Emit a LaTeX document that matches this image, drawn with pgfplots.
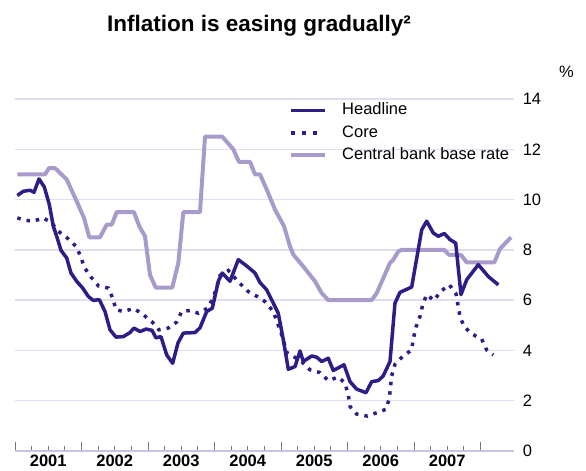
\documentclass[border=0pt]{standalone}
\usepackage{fontspec}
\setmainfont{Liberation Sans}
\usepackage{pgfplots}
\pgfplotsset{compat=1.18}
\usetikzlibrary{calc}
\definecolor{headc}{RGB}{45,30,135}
\definecolor{ratec}{RGB}{168,155,204}
\definecolor{gridc}{RGB}{224,221,240}
\definecolor{axisc}{RGB}{200,196,222}
\definecolor{tickc}{RGB}{120,120,120}
\newcommand{\lbl}{\fontsize{16.5bp}{19bp}\selectfont}
\pgfplotsset{
  longleg/.style={legend image code/.code={\draw[##1] (0bp,0bp) -- (34bp,0bp);}},
  dotleg/.style={legend image code/.code={\draw[##1, dash pattern=on 4bp off 7bp] (0bp,0bp) -- (26bp,0bp);}},
}
\begin{document}
\begin{tikzpicture}
\begin{axis}[
  name=ax,
  scale only axis,
  width=498.75bp, height=352bp,
  xmin=2001, xmax=2008.5, ymin=0, ymax=14,
  axis x line*=bottom,
  axis y line*=right,
  y axis line style={draw=none},
  x axis line style={draw=axisc, line width=1.2bp},
  xtick={2001,2002,2003,2004,2005,2006,2007,2008},
  xticklabels={},
  minor x tick num=3,
  xtick align=inside,
  major tick length=9bp,
  minor tick length=4.7bp,
  x tick style={draw=tickc, line width=0.8bp},
  ytick={0,2,4,6,8,10,12,14},
  ytick style={draw=none},
  ymajorgrids,
  major grid style={draw=gridc, line width=1.3bp},
  yticklabel pos=right,
  yticklabel style={font=\lbl, anchor=west, xshift=5.5bp},
  /pgf/number format/assume math mode=true,
  extra x ticks={2001.5,2002.5,2003.5,2004.5,2005.5,2006.5,2007.5},
  extra x tick labels={2001,2002,2003,2004,2005,2006,2007},
  extra x tick style={major tick length=0pt, xticklabel style={font=\lbl\bfseries}},
  legend style={at={(0.5494,0.9906)}, anchor=north west, draw=none, fill=none,
    font=\lbl, inner sep=0pt, row sep=7bp, legend cell align=left,
    nodes={inner sep=0pt, text height=12bp, text depth=3.5bp}},
]
% Central bank base rate (drawn first, behind)
\addplot[ratec, line width=4bp, line join=round, forget plot] coordinates {
(2001.035,11.0) (2001.451,11.0) (2001.511,11.25) (2001.602,11.25) (2001.777,10.8)
(2001.928,9.93) (2002.038,9.27) (2002.117,8.5) (2002.278,8.5) (2002.379,9.0)
(2002.454,9.0) (2002.529,9.5) (2002.789,9.5) (2002.869,8.94) (2002.955,8.54)
(2003.030,7.0) (2003.116,6.5) (2003.365,6.5) (2003.456,7.48) (2003.531,9.5)
(2003.782,9.5) (2003.857,12.5) (2004.117,12.5) (2004.283,12.0) (2004.368,11.5)
(2004.534,11.5) (2004.609,11.0) (2004.684,11.0) (2004.785,10.4) (2004.910,9.6)
(2005.045,8.94) (2005.135,8.14) (2005.185,7.81) (2005.335,7.34) (2005.511,6.75)
(2005.612,6.28) (2005.711,6.0) (2006.364,6.0) (2006.439,6.28) (2006.639,7.48)
(2006.689,7.61) (2006.764,7.94) (2006.815,8.0) (2007.456,8.0) (2007.526,7.8)
(2007.707,7.8) (2007.792,7.5) (2008.208,7.5) (2008.293,8.04) (2008.459,8.5)
};
% Headline
\addplot[headc, line width=3.5bp, line join=round, longleg] coordinates {
(2001.035,10.16) (2001.125,10.33) (2001.226,10.37) (2001.286,10.29) (2001.361,10.82)
(2001.441,10.5) (2001.516,9.8) (2001.576,8.94) (2001.627,8.54) (2001.692,7.98)
(2001.777,7.68) (2001.842,7.08) (2001.928,6.75) (2002.018,6.48) (2002.102,6.15)
(2002.177,5.99) (2002.268,6.02) (2002.353,5.55) (2002.429,4.82) (2002.519,4.53)
(2002.629,4.55) (2002.729,4.71) (2002.789,4.89) (2002.880,4.75) (2002.970,4.85)
(2003.060,4.80) (2003.120,4.50) (2003.195,4.55) (2003.281,3.82) (2003.371,3.49)
(2003.451,4.30) (2003.531,4.69) (2003.707,4.71) (2003.782,4.90) (2003.883,5.55)
(2003.967,5.68) (2004.057,6.75) (2004.117,7.08) (2004.233,6.75) (2004.358,7.61)
(2004.459,7.41) (2004.534,7.25) (2004.609,7.08) (2004.684,6.70) (2004.785,6.41)
(2004.884,5.88) (2004.959,5.48) (2005.035,4.42) (2005.110,3.25) (2005.211,3.36)
(2005.286,3.98) (2005.335,3.56) (2005.462,3.78) (2005.537,3.73) (2005.612,3.56)
(2005.711,3.69) (2005.786,3.20) (2005.947,3.43) (2006.038,2.76) (2006.138,2.46)
(2006.278,2.32) (2006.364,2.76) (2006.463,2.80) (2006.538,2.99) (2006.639,3.56)
(2006.714,5.88) (2006.789,6.31) (2006.965,6.52) (2007.116,8.80) (2007.191,9.14)
(2007.290,8.67) (2007.365,8.54) (2007.456,8.65) (2007.541,8.41) (2007.627,8.27)
(2007.707,6.22) (2007.792,6.81) (2007.967,7.41) (2008.117,6.94) (2008.268,6.61)
};
\addlegendentry{\hspace*{15bp}Headline}
% Core
\addplot[headc, line width=3.5bp, dash pattern=on 3.5bp off 6bp, dotleg] coordinates {
(2001.035,9.27) (2001.150,9.18) (2001.275,9.14) (2001.426,9.27) (2001.552,9.07)
(2001.651,8.74) (2001.786,8.47) (2001.917,8.14) (2001.992,7.72) (2002.038,7.32)
(2002.143,6.92) (2002.253,6.57) (2002.403,6.48) (2002.469,6.08) (2002.519,5.62)
(2002.629,5.55) (2002.789,5.67) (2002.929,5.42) (2003.056,5.15) (2003.165,4.82)
(2003.305,4.89) (2003.432,5.13) (2003.507,5.55) (2003.632,5.59) (2003.756,5.48)
(2003.895,5.68) (2003.982,6.10) (2004.038,6.55) (2004.083,6.98) (2004.208,7.18)
(2004.368,6.70) (2004.504,6.35) (2004.639,6.15) (2004.755,5.95) (2004.884,5.55)
(2005.011,4.62) (2005.086,3.92) (2005.311,3.56) (2005.436,3.23) (2005.586,3.12)
(2005.711,2.80) (2005.862,2.94) (2005.962,2.70) (2006.012,2.23) (2006.038,1.77)
(2006.138,1.47) (2006.298,1.39) (2006.448,1.53) (2006.579,1.66) (2006.629,2.10)
(2006.664,2.99) (2006.714,3.45) (2006.830,3.76) (2006.965,4.02) (2006.989,4.45)
(2007.030,4.93) (2007.090,5.35) (2007.131,5.82) (2007.191,6.22) (2007.301,5.99)
(2007.402,6.35) (2007.531,6.61) (2007.632,6.25) (2007.692,5.35) (2007.752,4.95)
(2007.868,4.66) (2008.018,4.45) (2008.093,4.02) (2008.193,3.82)
};
\addlegendentry{\hspace*{15bp}Core}
\addlegendimage{ratec, line width=4bp, longleg}
\addlegendentry{\hspace*{15bp}Central bank base rate}
\end{axis}
\node[anchor=base, font=\fontsize{22.5bp}{26bp}\selectfont\bfseries] at ($(ax.north west)+(244bp,67.5bp)$) {Inflation is easing gradually²};
\node[font=\lbl] at ($(ax.north east)+(52.75bp,27.5bp)$) {\%};
\pgfresetboundingbox
\path[use as bounding box] ($(ax.south west)+(-15bp,-19bp)$) rectangle ($(ax.north east)+(72.25bp,99bp)$);
\end{tikzpicture}
\end{document}
